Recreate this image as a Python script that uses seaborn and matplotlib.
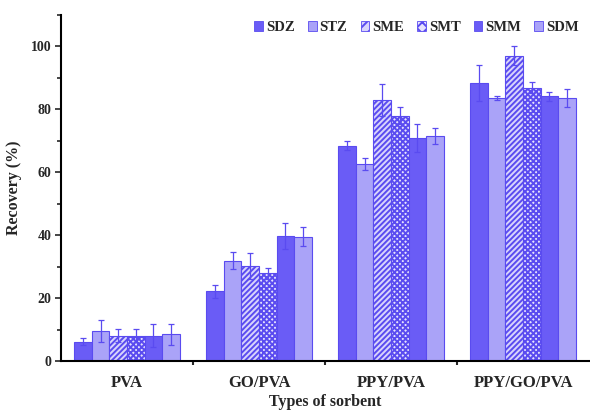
import matplotlib
matplotlib.use("Agg")
import matplotlib.pyplot as plt
import seaborn as sns
import pandas as pd
import numpy as np
from matplotlib.patches import Patch
from matplotlib.ticker import MultipleLocator, FixedLocator

sorbents = ["PVA", "GO/PVA", "PPY/PVA", "PPY/GO/PVA"]
analytes = ["SDZ", "STZ", "SME", "SMT", "SMM", "SDM"]

SDZ = [6.2, 22.2, 68.5, 88.4]
STZ = [9.6, 31.9, 62.6, 83.7]
SME = [8.1, 30.3, 83.0, 97.0]
SMT = [8.1, 27.9, 78.0, 86.9]
SMM = [8.1, 39.7, 70.8, 84.1]
SDM = [8.5, 39.5, 71.5, 83.7]

SDZ_err = [1.0, 2.0, 1.5, 5.6]
STZ_err = [3.5, 2.7, 2.0, 0.7]
SME_err = [2.0, 4.2, 5.0, 3.0]
SMT_err = [2.0, 1.8, 2.7, 1.8]
SMM_err = [3.7, 4.2, 4.4, 1.5]
SDM_err = [3.3, 3.0, 2.5, 2.8]

values = [SDZ, STZ, SME, SMT, SMM, SDM]
errors = [SDZ_err, STZ_err, SME_err, SMT_err, SMM_err, SDM_err]

rows = []
for a, v, e in zip(analytes, values, errors):
    for s, vv, ee in zip(sorbents, v, e):
        rows.append({"sorbent": s, "analyte": a, "recovery": vv, "err": ee})
df = pd.DataFrame(rows)

dark = "#6a5cf6"
light = "#aaa3f8"
edge = "#5a4bf0"
faces = {"SDZ": dark, "STZ": light, "SME": "#d8d4fc", "SMT": "#e6e3fd", "SMM": dark, "SDM": light}
hatches = {"SDZ": "", "STZ": "", "SME": "//////", "SMT": "xxxxxx", "SMM": "", "SDM": ""}

sns.set_style("ticks")
plt.rcParams["font.family"] = ["Liberation Serif", "DejaVu Serif"]
plt.rcParams["font.weight"] = "bold"
plt.rcParams["hatch.color"] = edge
plt.rcParams["hatch.linewidth"] = 1.4

fig = plt.figure(figsize=(5.9, 4.16), dpi=100)
ax = fig.add_axes([0.1034, 0.132, 0.895, 0.832])

sns.barplot(data=df, x="sorbent", y="recovery", hue="analyte", order=sorbents,
            hue_order=analytes, errorbar=None, ax=ax, width=0.8, legend=False,
            palette=[faces[a] for a in analytes], saturation=1)

for i, a in enumerate(analytes):
    cont = ax.containers[i]
    sub = df[df.analyte == a].set_index("sorbent").loc[sorbents]
    xs = []
    for bar in cont:
        bar.set_facecolor(faces[a])
        bar.set_edgecolor(edge)
        bar.set_linewidth(0.8)
        bar.set_hatch(hatches[a])
        xs.append(bar.get_x() + bar.get_width() / 2)
    ax.errorbar(xs, sub["recovery"].values, yerr=sub["err"].values, fmt="none",
                ecolor=edge, elinewidth=0.9, capsize=2, capthick=0.9)

ax.set_xlim(-0.5, 3.5)
ax.set_ylim(0, 110)
ax.yaxis.set_major_locator(MultipleLocator(20))
ax.yaxis.set_minor_locator(MultipleLocator(10))
ax.xaxis.set_minor_locator(FixedLocator([0.5, 1.5, 2.5]))
ax.tick_params(axis="x", which="major", length=0, labelsize=12, pad=10)
ax.tick_params(axis="x", which="minor", length=3, width=1.5, direction="out")
ax.tick_params(axis="y", which="major", length=4, width=1.2, labelsize=10, pad=3)
ax.tick_params(axis="y", which="minor", length=3, width=1.2)
for lab in ax.get_xticklabels() + ax.get_yticklabels():
    lab.set_fontweight("bold")
for sp in ["left", "bottom"]:
    ax.spines[sp].set_linewidth(1.5)
    ax.spines[sp].set_color("black")
sns.despine(ax=ax)

ax.set_xlabel("Types of sorbent", fontsize=11.5, fontweight="bold", labelpad=2)
ax.set_ylabel("Recovery (%)", fontsize=11.5, fontweight="bold", labelpad=6)

handles = [Patch(facecolor=faces[a], edgecolor=edge, hatch=hatches[a][:3], linewidth=0.6)
           for a in analytes]
ax.legend(handles, analytes, loc="upper right", ncol=6, frameon=False,
          handlelength=0.6, handleheight=0.6, handletextpad=0.2, columnspacing=0.9,
          prop={"weight": "bold", "size": 10.5}, bbox_to_anchor=(1.005, 1.02))

fig.savefig("out.png", dpi=100)
